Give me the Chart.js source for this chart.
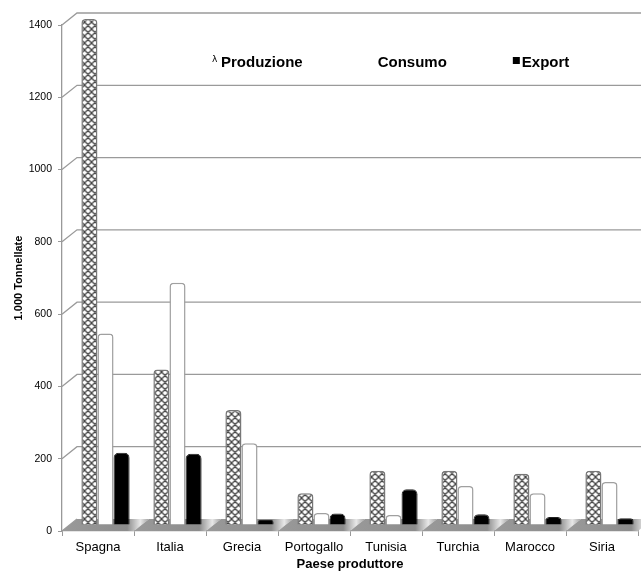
<!DOCTYPE html>
<html>
<head>
  <title>Olio d'oliva - produzione, consumo, export</title>
  <script src="https://cdn.jsdelivr.net/npm/chart.js"></script>
  <style>
    body {
      margin: 0;
      background-color: #fff;
    }
  </style>
</head>
<body>
  <canvas id="olioChart" width="641" height="573"></canvas>

  <script>
    // Dati (1.000 tonnellate)
    const paesi = ['Spagna', 'Italia', 'Grecia', 'Portogallo', 'Tunisia', 'Turchia', 'Marocco', 'Siria'];
    const produzione = [1400, 430, 318, 88, 150, 150, 142, 150];
    const consumo = [530, 670, 226, 33, 28, 108, 88, 119];
    const esportazione = [200, 197, 14, 32, 99, 30, 22, 19];
    const tickStep = 200;
    const tickMax = 1400;

    // finto 3D: profondita' del "muro" di fondo
    const DEPTH_X = 15;
    const DEPTH_Y = 12;

    const canvas = document.getElementById('olioChart');
    const ctx = canvas.getContext('2d');

    // trama intrecciata per la produzione
    function trama() {
      const t = document.createElement('canvas');
      t.width = 7;
      t.height = 7;
      const g = t.getContext('2d');
      g.fillStyle = '#fff';
      g.fillRect(0, 0, 7, 7);
      g.strokeStyle = '#444';
      g.lineWidth = 1.3;
      g.beginPath();
      for (let k = -7; k <= 14; k += 7) {
        g.moveTo(k, 7); g.lineTo(k + 7, 0);
        g.moveTo(k, 0); g.lineTo(k + 7, 7);
      }
      g.stroke();
      return ctx.createPattern(t, 'repeat');
    }

    // pavimento e linee di griglia sul fondo, poi sposta le barre a meta' profondita'
    const sfondo3d = {
      id: 'sfondo3d',
      beforeDatasetsDraw(chart) {
        const c = chart.ctx;
        const y = chart.scales.y;
        const a = chart.chartArea;
        c.save();

        // pavimento
        const step = (a.right - a.left) / paesi.length;
        for (let i = 0; i < paesi.length; i++) {
          const x0 = a.left + i * step;
          const grad = c.createLinearGradient(x0, 0, x0 + step + DEPTH_X, 0);
          grad.addColorStop(0, '#9a9a9a');
          grad.addColorStop(0.75, '#8c8c8c');
          grad.addColorStop(0.9, '#e8e8e8');
          grad.addColorStop(1, '#a0a0a0');
          c.fillStyle = grad;
          c.beginPath();
          c.moveTo(x0, a.bottom);
          c.lineTo(x0 + step, a.bottom);
          c.lineTo(x0 + step + DEPTH_X, a.bottom - DEPTH_Y);
          c.lineTo(x0 + DEPTH_X, a.bottom - DEPTH_Y);
          c.closePath();
          c.fill();
        }

        // griglia
        c.strokeStyle = '#9a9a9a';
        c.lineWidth = 1.3;
        for (let v = 0; v <= tickMax; v += tickStep) {
          const py = y.getPixelForValue(v);
          c.beginPath();
          c.moveTo(a.left, py);
          c.lineTo(a.left + DEPTH_X, py - DEPTH_Y);
          if (v > 0) c.lineTo(chart.width, py - DEPTH_Y);
          c.stroke();
        }
        c.restore();

        c.save();
        c.translate(DEPTH_X / 2, -DEPTH_Y / 2);
      },
      afterDatasetsDraw(chart) {
        chart.ctx.restore();
      }
    };

    // legenda dentro l'area del grafico
    const legenda = {
      id: 'legenda',
      afterDraw(chart) {
        const c = chart.ctx;
        const a = chart.chartArea;
        const fontB = 'bold 15px "Liberation Sans", Arial, Helvetica, sans-serif';
        let px = a.left + 150;
        const py = a.top + 38;
        c.save();
        c.fillStyle = '#000';
        c.textBaseline = 'middle';
        chart.data.datasets.forEach((ds, i) => {
          if (i === 0) {
            c.font = '9px "DejaVu Sans", sans-serif';
            c.fillText('\u03bb', px, py - 3);
          } else if (i === 2) {
            c.fillRect(px, py - 6, 7, 7);
          }
          c.font = fontB;
          c.fillText(ds.label, px + 9, py);
          px += 9 + c.measureText(ds.label).width + 66;
        });
        c.restore();
      }
    };

    const fontFamily = '"Liberation Sans", Arial, Helvetica, sans-serif';

    new Chart(canvas, {
      type: 'bar',
      data: {
        labels: paesi,
        datasets: [{
          label: 'Produzione',
          data: produzione,
          backgroundColor: trama(),
          borderColor: '#777',
          borderWidth: 1.5,
          borderRadius: { topLeft: 4, topRight: 4 },
          borderSkipped: 'bottom'
        }, {
          label: 'Consumo',
          data: consumo,
          backgroundColor: '#fff',
          borderColor: '#a0a0a0',
          borderWidth: 1.5,
          borderRadius: { topLeft: 4, topRight: 4 },
          borderSkipped: 'bottom'
        }, {
          label: 'Export',
          data: esportazione,
          backgroundColor: '#000',
          borderColor: '#222',
          borderWidth: 1,
          borderRadius: { topLeft: 5, topRight: 5 },
          borderSkipped: 'bottom'
        }]
      },
      options: {
        responsive: false,
        animation: false,
        clip: false,
        layout: { padding: { top: 25, right: 3, left: 0, bottom: 0 } },
        datasets: {
          bar: { categoryPercentage: 0.67, barPercentage: 1.0 }
        },
        plugins: {
          legend: { display: false },
          tooltip: { enabled: false }
        },
        scales: {
          x: {
            grid: {
              display: true,
              drawOnChartArea: false,
              tickLength: 5,
              color: '#999'
            },
            border: { display: true, color: '#999', width: 1.3 },
            ticks: {
              color: '#000',
              padding: 4,
              font: { family: fontFamily, size: 13 }
            },
            title: {
              display: true,
              text: 'Paese produttore',
              color: '#000',
              padding: { top: 0, bottom: 1 },
              font: { family: fontFamily, size: 13, weight: 'bold' }
            },
            afterFit(scale) { scale.height = 42; }
          },
          y: {
            min: 0,
            max: tickMax,
            grid: {
              display: true,
              drawOnChartArea: false,
              tickLength: 4,
              color: '#999'
            },
            border: { display: true, color: '#999', width: 1.3 },
            ticks: {
              stepSize: tickStep,
              color: '#000',
              padding: 6,
              font: { family: fontFamily, size: 10.5 },
              callback: (v) => String(v)
            },
            title: {
              display: true,
              text: '1.000 Tonnellate',
              color: '#000',
              padding: { top: 12, bottom: 0 },
              font: { family: fontFamily, size: 11, weight: 'bold' }
            },
            afterFit(scale) { scale.width = 62; }
          }
        }
      },
      plugins: [sfondo3d, legenda]
    });
  </script>
</body>
</html>
